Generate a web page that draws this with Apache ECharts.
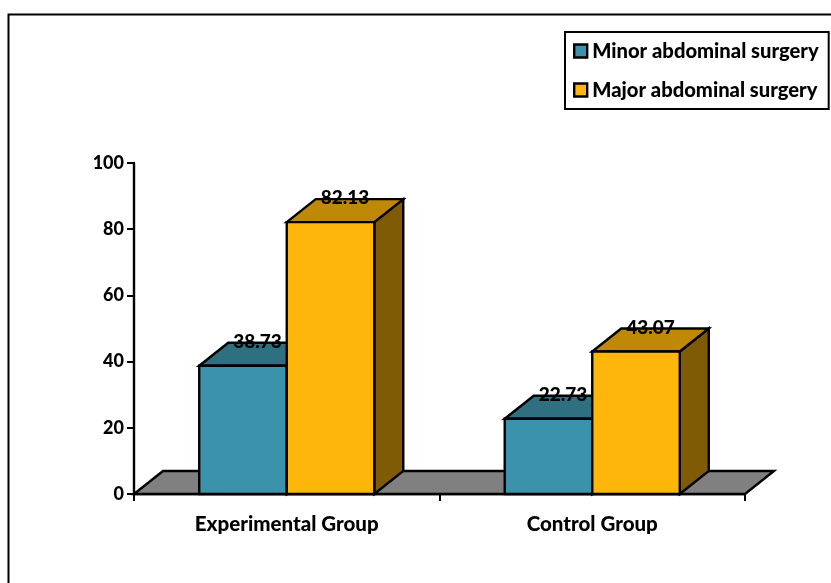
<!DOCTYPE html>
<html>
<head>
<meta charset="utf-8">
<style>html,body{margin:0;padding:0;background:#fff}#c{width:831px;height:583px}</style>
<script src="https://cdn.jsdelivr.net/npm/echarts@6/dist/echarts.min.js"></script>
</head>
<body>
<div id="c"></div>
<script>
const categories = ['Experimental Group', 'Control Group'];
const minorValues = [38.73, 22.73];
const majorValues = [82.13, 43.07];
const minorName = 'Minor abdominal surgery';
const majorName = 'Major abdominal surgery';
const yMin = 0, yMax = 100, yStep = 20;

const FONT = 'Lato, "Open Sans", sans-serif';
const WEIGHT = 900;
const DX = 29, DY = 23, BAR_RATIO = 0.2865;
const INK = '#000';
const STROKE = 2.4;

function barRenderer(side, front, top, flank) {
  return function (params, api) {
    const i = api.value(0), v = api.value(1);
    const base = api.coord([i, 0]);
    const head = api.coord([i, v]);
    const w = api.size([1, 0])[0] * BAR_RATIO;
    const x0 = side < 0 ? base[0] - w : base[0];
    const x1 = x0 + w;
    const yb = base[1], yt = head[1];
    const line = { stroke: INK, lineWidth: STROKE, lineJoin: 'miter' };
    return {
      type: 'group',
      children: [
        { type: 'polygon', shape: { points: [[x1, yb], [x1 + DX, yb - DY], [x1 + DX, yt - DY], [x1, yt]] }, style: Object.assign({ fill: flank }, line) },
        { type: 'polygon', shape: { points: [[x0, yt], [x0 + DX, yt - DY], [x1 + DX, yt - DY], [x1, yt]] }, style: Object.assign({ fill: top }, line) },
        { type: 'rect', shape: { x: x0, y: yt, width: w, height: yb - yt }, style: Object.assign({ fill: front }, line) },
        { type: 'text', z2: 50, style: { x: (x0 + x1 + DX) / 2, y: yt - DY - 1, text: v.toFixed(2), fill: INK, font: WEIGHT + ' 19px ' + FONT, align: 'center', verticalAlign: 'middle' } }
      ]
    };
  };
}

function floorRenderer(params, api) {
  const a = api.coord([0, 0]);
  const w = api.size([1, 0])[0];
  const left = a[0] - w / 2, right = left + w * categories.length, y = a[1];
  return {
    type: 'polygon',
    shape: { points: [[left, y], [left + DX, y - DY], [right + DX, y - DY], [right, y]] },
    style: { fill: '#808080', stroke: INK, lineWidth: STROKE }
  };
}

const chart = echarts.init(document.getElementById('c'), null, { renderer: 'canvas' });
chart.setOption({
  animation: false,
  backgroundColor: '#fff',
  graphic: [{
    type: 'rect', left: 6, top: 12, z: -1, silent: true,
    shape: { width: 840, height: 590 },
    style: { fill: 'none', stroke: INK, lineWidth: 2 }
  }],
  legend: {
    orient: 'vertical', left: 565, top: 32,
    padding: [9, 10, 9, 8], itemGap: 19, itemWidth: 13, itemHeight: 13,
    borderColor: INK, borderWidth: 2, backgroundColor: '#fff',
    textStyle: { color: INK, fontFamily: FONT, fontWeight: WEIGHT, fontSize: 20.2 },
    data: [
      { name: minorName, icon: 'rect', itemStyle: { color: '#3B93AB', borderColor: INK, borderWidth: 2.4 } },
      { name: majorName, icon: 'rect', itemStyle: { color: '#FFB60B', borderColor: INK, borderWidth: 2.4 } }
    ],
    selectedMode: false
  },
  grid: { left: 134, top: 163, width: 611, height: 331 },
  xAxis: {
    type: 'category', data: categories,
    axisLine: { lineStyle: { color: INK, width: STROKE } },
    axisTick: { show: true, alignWithLabel: false, length: 7, lineStyle: { color: INK, width: 2 } },
    axisLabel: { color: INK, fontFamily: FONT, fontWeight: WEIGHT, fontSize: 20.5, margin: 20 },
    splitLine: { show: false }
  },
  yAxis: {
    type: 'value', min: yMin, max: yMax, interval: yStep,
    axisLine: { show: true, lineStyle: { color: INK, width: STROKE } },
    axisTick: { show: true, length: 7, lineStyle: { color: INK, width: 2 } },
    axisLabel: { color: INK, fontFamily: FONT, fontWeight: WEIGHT, fontSize: 18, margin: 10 },
    splitLine: { show: false }
  },
  series: [
    { type: 'custom', name: 'floor', coordinateSystem: 'cartesian2d', z: 1, silent: true, data: [[0, 0]], renderItem: floorRenderer, encode: { x: 0, y: 1 } },
    { type: 'custom', name: minorName, coordinateSystem: 'cartesian2d', z: 2, data: minorValues.map((v, i) => [i, v]), renderItem: barRenderer(-1, '#3B93AB', '#2E6F80', '#1F4F5C'), encode: { x: 0, y: 1 } },
    { type: 'custom', name: majorName, coordinateSystem: 'cartesian2d', z: 3, data: majorValues.map((v, i) => [i, v]), renderItem: barRenderer(1, '#FFB60B', '#BF8807', '#7F5B05'), encode: { x: 0, y: 1 } }
  ]
});
</script>
</body>
</html>
